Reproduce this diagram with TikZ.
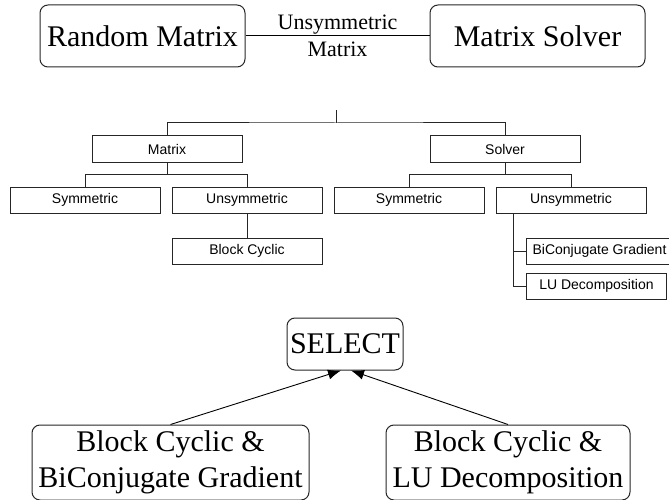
\documentclass[tikz,border=0pt]{standalone}
\usepackage{fontspec}
\setmainfont{Liberation Serif}
\newfontfamily\arialfont{Liberation Sans}
\usepackage{tikz}
\usetikzlibrary{arrows.meta}

\newcommand{\bigfont}{\fontsize{30}{36}\selectfont}
\newcommand{\lblfont}{\fontsize{22}{27}\selectfont}
\newcommand{\treefont}{\arialfont\fontsize{14}{16}\selectfont}

\begin{document}
\begin{tikzpicture}[
  x=1pt, y=-1pt,
  big/.style={draw=black!85, line width=1pt, rounded corners=8pt, align=center, font=\bigfont, inner sep=0pt},
  lbl/.style={align=center, font=\lblfont, inner sep=0pt},
  leaf/.style={draw=black!85, line width=1pt, font=\treefont, minimum width=150pt, minimum height=26pt, inner sep=0pt},
  wire/.style={draw=black!85, line width=1pt},
  pick/.style={-{Latex[length=13pt,width=10pt]}, line width=0.9pt}
]
\useasboundingbox (0,0) rectangle (669,500);

% -- top: generator and solver
\node[big, minimum width=205pt, minimum height=62pt] (rand) at (142.5,36) {Random Matrix};
\node[big, minimum width=215pt, minimum height=62pt] (solv) at (537.5,36) {Matrix Solver};
\draw[line width=1pt] (rand) -- node[lbl] {Unsymmetric\\Matrix} (solv);

% -- middle: option tree
\node[leaf] (mat) at (167,149) {Matrix};
\node[leaf] (sol) at (505,149) {Solver};
\node[leaf] (msym) at (85,200) {Symmetric};
\node[leaf] (munsym) at (247,200) {Unsymmetric};
\node[leaf] (blk) at (247,251) {Block Cyclic};
\node[leaf] (ssym) at (409,200) {Symmetric};
\node[leaf] (sunsym) at (571,200) {Unsymmetric};
\node[leaf, minimum width=146pt, anchor=west] (bicg) at (526,251) {BiConjugate Gradient};
\node[leaf, minimum width=140pt, anchor=west] (lud) at (526,286) {LU Decomposition};

\coordinate (root) at (336,110);
\coordinate (bus) at (336,123);
\draw[wire] (root) -- (bus);
\draw[wire] (mat.north) |- (bus) -| (sol.north);

\draw[wire] (mat.south) -- ++(0,12) coordinate (mbus);
\draw[wire] (msym.north) |- (mbus) -| (munsym.north);
\draw[wire] (munsym) -- (blk);

\draw[wire] (sol.south) -- ++(0,12) coordinate (sbus);
\draw[wire] (ssym.north) |- (sbus) -| (sunsym.north);
\path (sunsym.south west) ++(18,0) coordinate (trunk);
\draw[wire] (trunk) |- (lud.west);
\draw[wire] (trunk |- bicg.west) -- (bicg.west);

% -- bottom: selection
\node[big, minimum width=116pt, minimum height=52pt] (sel) at (345,344) {SELECT};
\node[big, minimum width=277pt, minimum height=75pt] (optA) at (170.5,462.5) {Block Cyclic \&\\BiConjugate Gradient};
\node[big, minimum width=244pt, minimum height=75pt] (optB) at (508,462.5) {Block Cyclic \&\\LU Decomposition};
\draw[pick] (optA.north) -- ([xshift=-4pt]sel.south);
\draw[pick] (optB.north) -- ([xshift=6pt]sel.south);

\end{tikzpicture}
\end{document}
